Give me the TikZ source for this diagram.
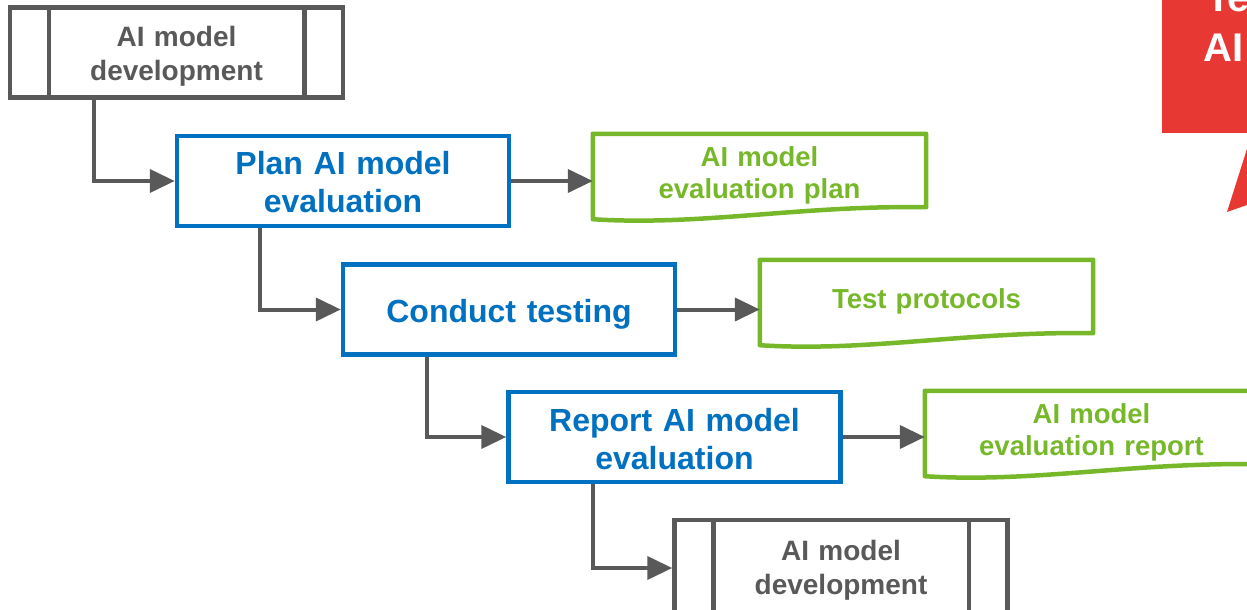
\documentclass[tikz,border=0pt]{standalone}
\usepackage{fontspec}
\setmainfont{Liberation Sans}
\usetikzlibrary{arrows.meta}
\definecolor{stepblue}{RGB}{0,112,192}
\definecolor{devgrey}{RGB}{89,89,89}
\definecolor{docgreen}{RGB}{119,184,42}
\definecolor{calloutred}{RGB}{232,56,52}
\tikzset{
  stepbox/.style={draw=stepblue, line width=4.5pt, rectangle, inner sep=0pt,
    minimum width=332pt, minimum height=90pt, text width=320pt, align=center,
    text=stepblue, font=\bfseries\fontsize{32}{38}\selectfont},
  devbox/.style={draw=devgrey, line width=4.5pt, rectangle, inner sep=0pt,
    minimum width=333pt, minimum height=90pt, text width=240pt, align=center,
    text=devgrey, font=\bfseries\fontsize{28}{34}\selectfont},
  docbox/.style={rectangle, inner sep=0pt, minimum width=333pt, minimum height=76pt,
    text width=320pt, align=center, text=docgreen,
    font=\bfseries\fontsize{27.5}{32}\selectfont},
  docline/.style={draw=docgreen, line width=4.5pt, line join=round},
  conn/.style={draw=devgrey, line width=4pt, -{Triangle[length=25pt,width=23pt]}},
  callouttext/.style={text=white, inner sep=0pt, font=\bfseries\fontsize{40}{46}\selectfont}
}
% invisible strut that sets the height of a first text line
\newcommand{\tstrut}[1]{\rule{0pt}{#1}}
% wavy-bottom document outline around a docbox node
\newcommand{\docoutline}[1]{%
  \draw[docline] (#1.north west) -- (#1.north east) -- ([yshift=3pt]#1.south east)
    .. controls ([xshift=-126pt,yshift=5pt]#1.south east) and ([xshift=107pt,yshift=-16pt]#1.south west)
    .. ([yshift=-9pt]#1.south west) -- cycle;}
% predefined-process side bars
\newcommand{\devbars}[1]{%
  \draw[devgrey, line width=4.5pt] ([xshift=41pt]#1.north west) -- ([xshift=41pt]#1.south west)
    ([xshift=-41pt]#1.north east) -- ([xshift=-41pt]#1.south east);}
\begin{document}
\begin{tikzpicture}[x=1pt,y=-1pt]
\clip (0,0) rectangle (1247,610);

% callout at the upper right
\fill[calloutred] (1162,-20) rectangle (1320,133);
\fill[calloutred] (1252,133) -- (1227,212) -- (1452,133) -- cycle;
\node[callouttext, anchor=base west] (calloutA) at (1206,12) {Te};
\node[callouttext, anchor=base west] (calloutB) at (1203,62) {AI};

% process chain
\node[devbox] (devtop) at (176.5,52.5) {\tstrut{27.5pt}AI model\\development};
\devbars{devtop}
\node[stepbox] (plan) at (343,181) {\tstrut{25.5pt}Plan AI model\\evaluation};
\node[stepbox] (conduct) at (509,309.5) {\tstrut{32.5pt}Conduct testing};
\node[stepbox] (report) at (674.5,437) {\tstrut{27.5pt}Report AI model\\evaluation};
\node[devbox, minimum height=96pt] (devbot) at (841,568) {\tstrut{24.5pt}AI model\\development};
\devbars{devbot}

% output documents
\node[docbox] (docplan) at (759.5,172) {\tstrut{26pt}AI model\\evaluation plan};
\docoutline{docplan}
\node[docbox] (docproto) at (926.5,298) {\tstrut{26pt}Test protocols};
\docoutline{docproto}
\node[docbox] (docreport) at (1091.5,429) {\tstrut{26pt}AI model\\evaluation report};
\docoutline{docreport}

% step connectors
\draw[conn] ([xshift=-82.5pt]devtop.south) |- (plan.west);
\draw[conn] ([xshift=-83pt]plan.south) |- (conduct.west);
\draw[conn] ([xshift=-82pt]conduct.south) |- (report.west);
\draw[conn] ([xshift=-81.5pt]report.south) |- (devbot.west);

% output connectors
\draw[conn] (plan.east) -- (plan.east -| docplan.west);
\draw[conn] (conduct.east) -- (conduct.east -| docproto.west);
\draw[conn] (report.east) -- (report.east -| docreport.west);
\end{tikzpicture}
\end{document}
